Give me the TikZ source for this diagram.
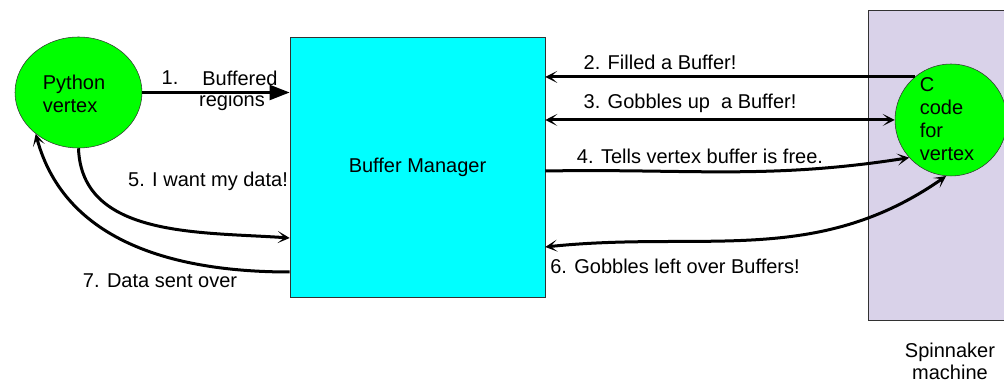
\documentclass[tikz,border=0pt]{standalone}
\usepackage{fontspec}
\setmainfont{Liberation Sans}
\usetikzlibrary{arrows.meta,shapes.geometric}
\definecolor{spinlilac}{RGB}{217,210,233}
\definecolor{edgegray}{RGB}{50,50,50}
\definecolor{bmcyan}{RGB}{0,255,255}
\definecolor{vxgreen}{RGB}{0,255,0}
\begin{document}
\begin{tikzpicture}[x=0.75pt,y=0.75pt,
	font=\fontsize{15}{17.25}\selectfont,
	arr/.style={line width=2.25pt,-{Stealth[length=9pt,width=9pt,inset=5pt]}},
	dbl/.style={line width=2.25pt,{Stealth[length=9pt,width=9pt,inset=5pt]}-{Stealth[length=9pt,width=9pt,inset=5pt]}},
	fat/.style={line width=2.25pt,-{Triangle[length=15pt,width=11pt]}}]
	\useasboundingbox (0,0) rectangle (1004,384);
	% spinnaker board
	\draw[edgegray,fill=spinlilac] (868,64) rectangle (1010,374);
	\node[align=center,font=\fontsize{15}{16.5}\selectfont] (spin) at (950,23) {Spinnaker\\machine};
	% the three parts
	\node[draw=edgegray,fill=bmcyan,minimum width=191.25pt,minimum height=195pt] (bm) at (417.5,217) {Buffer Manager};
	\node[ellipse,draw=edgegray,fill=vxgreen,minimum width=95.25pt,minimum height=83.25pt] (py) at (78.5,291.5) {};
	\node[align=left] (pytext) at (74,290.5) {Python\\vertex};
	\node[circle,draw=edgegray,fill=vxgreen,minimum size=84pt] (cv) at (951,264) {};
	\node[align=left] (cvtext) at (947,264.5) {C\\code\\for\\vertex};
	% messages
	\draw[fat] (py.east) -- (py.east -| bm.west);
	\node (l1a) at (170,306) {1.};
	\node (l1b) at (240,306) {Buffered};
	\node (l1c) at (232,283) {regions};
	\draw[arr] (cv.130) -- (cv.130 -| bm.east);
	\node (l2) at (660,322) {2. Filled a Buffer!};
	\draw[dbl] (bm.east |- cv.west) -- (cv.west);
	\node (l3) at (690,281) {3. Gobbles up\ \ a Buffer!};
	\draw[arr] ([yshift=-3pt]bm.east) to[out=1,in=189] (cv.222);
	\node (l4) at (700,228) {4. Tells vertex buffer is free.};
	\draw[arr] (py.south) to[out=-88,in=176] ([yshift=-53.25pt]bm.west);
	\node (l5) at (208,203) {5. I want my data!};
	\draw[dbl] ([yshift=-60pt]bm.east) to[out=6,in=215] (cv.265);
	\node (l6) at (675,118) {6. Gobbles left over Buffers!};
	\draw[arr] ([yshift=-78.75pt]bm.west) to[out=180,in=-75] (py.224);
	\node (l7) at (160,103) {7. Data sent over};
\end{tikzpicture}
\end{document}
